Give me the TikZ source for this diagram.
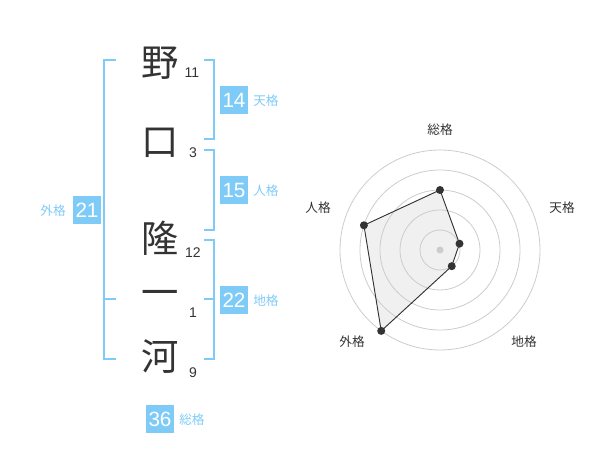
\documentclass[tikz,border=0pt]{standalone}
\usepackage{fontspec}
\usetikzlibrary{calc}
\newfontfamily\cjk{Noto Sans CJK JP}
\newfontfamily\num{Liberation Sans}
\definecolor{sky}{HTML}{7FCBF8}
\definecolor{ink}{HTML}{333333}
\definecolor{ring}{HTML}{CCCCCC}
\definecolor{area}{HTML}{F0F0F0}
\tikzset{
  kanji/.style={font=\cjk\fontsize{28}{28}\selectfont, text=ink, inner sep=0pt},
  strokes/.style={font=\num\fontsize{10.5}{10.5}\selectfont, text=ink, inner sep=0pt},
  valbox/.style={fill=sky, text=white, minimum width=21pt, minimum height=21pt, inner sep=0pt, font=\num\fontsize{15.5}{15.5}\selectfont},
  kaku/.style={font=\cjk\fontsize{9.5}{9.5}\selectfont, text=sky, inner sep=0pt},
  brk/.style={draw=sky, line width=1.3pt},
  axlab/.style={font=\cjk\fontsize{9.5}{9.5}\selectfont, text=ink, inner sep=0pt},
  ringline/.style={draw=ring, line width=0.6pt},
}
\begin{document}
\begin{tikzpicture}[x=0.75pt,y=-0.75pt]
\useasboundingbox (0,0) rectangle (600,470);
% characters
\node[kanji] (c1) at (160,63) {野};
\node[kanji] (c2) at (160,143) {口};
\node[kanji] (c3) at (160,238) {隆};
\node[kanji] (c4) at (160,298) {一};
\node[kanji] (c5) at (160,357) {河};
\node[strokes] (s1) at (192,73) {11};
\node[strokes] (s2) at (193,153) {3};
\node[strokes] (s3) at (193,253) {12};
\node[strokes] (s4) at (193,313) {1};
\node[strokes] (s5) at (193,373) {9};
% left bracket
\coordinate (L1) at (116,60);
\coordinate (L2) at (104,60);
\coordinate (L3) at (104,359);
\coordinate (L4) at (116,359);
\coordinate (Lm1) at (104,299);
\coordinate (Lm2) at (116,299);
\draw[brk] (L1) -- (L2) -- (L3) -- (L4);
\draw[brk] (Lm1) -- (Lm2);
% right brackets
\coordinate (T1) at (204,60);
\coordinate (T2) at (214,60);
\coordinate (T3) at (214,139);
\coordinate (T4) at (204,139);
\draw[brk] (T1) -- (T2) -- (T3) -- (T4);
\coordinate (J1) at (204,150);
\coordinate (J2) at (214,150);
\coordinate (J3) at (214,230);
\coordinate (J4) at (204,230);
\draw[brk] (J1) -- (J2) -- (J3) -- (J4);
\coordinate (D1) at (204,240);
\coordinate (D2) at (214,240);
\coordinate (D3) at (214,359);
\coordinate (D4) at (204,359);
\coordinate (Dm1) at (214,299);
\coordinate (Dm2) at (204,299);
\draw[brk] (D1) -- (D2) -- (D3) -- (D4);
\draw[brk] (Dm1) -- (Dm2);
% value boxes
\node[valbox] (b14) at (234,100) {14};
\node[kaku, anchor=west] (k14) at (253,101) {天格};
\node[valbox] (b15) at (234,190) {15};
\node[kaku, anchor=west] (k15) at (253,191) {人格};
\node[valbox] (b21) at (87,210) {21};
\node[kaku, anchor=east] (k21) at (66,211) {外格};
\node[valbox] (b22) at (234,300) {22};
\node[kaku, anchor=west] (k22) at (253,301) {地格};
\node[valbox] (b36) at (160,419) {36};
\node[kaku, anchor=west] (k36) at (179,420) {総格};
% radar (y axis points down: visual angle a is written -a)
\coordinate (O) at (440,250);
\coordinate (p1) at ($(O)+(-90:60)$);
\coordinate (p2) at ($(O)+(-18:20.5)$);
\coordinate (p3) at ($(O)+(54:20)$);
\coordinate (p4) at ($(O)+(126:100)$);
\coordinate (p5) at ($(O)+(-162:80)$);
\fill[area] (p1) -- (p2) -- (p3) -- (p4) -- (p5) -- cycle;
\foreach \r in {20,40,60,80,100} \draw[ringline] (O) circle[radius=\r];
\fill[ring] (O) circle[radius=3.5];
\draw[ink, line width=0.7pt] (p1) -- (p2) -- (p3) -- (p4) -- (p5) -- cycle;
\foreach \p in {p1,p2,p3,p4,p5} \fill[ink] (\p) circle[radius=4];
\node[axlab] (a1) at (440,130) {総格};
\node[axlab] (a2) at (562,208) {天格};
\node[axlab] (a3) at (524,342) {地格};
\node[axlab] (a4) at (352,342) {外格};
\node[axlab] (a5) at (318,208) {人格};
\end{tikzpicture}
\end{document}
